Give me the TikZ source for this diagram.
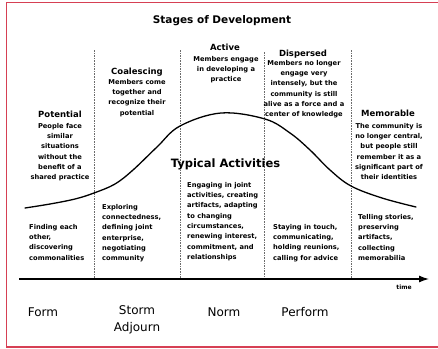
\documentclass[tikz,border=0pt]{standalone}
\usepackage{fontspec}
\setmainfont{DejaVu Sans}
\usetikzlibrary{arrows.meta}
\definecolor{framered}{RGB}{214,64,84}
\tikzset{
  body/.style={font=\bfseries\fontsize{6.7}{10.3}\selectfont, align=center, inner sep=0pt, anchor=north},
  acts/.style={font=\bfseries\fontsize{6.7}{10.3}\selectfont, align=left, inner sep=0pt, anchor=north west},
  head/.style={font=\bfseries\fontsize{8.5}{10}\selectfont, inner sep=0pt, anchor=north},
  stage/.style={font=\fontsize{12}{17}\selectfont, align=center, inner sep=0pt},
  divider/.style={draw=gray!85!black, line width=0.6pt, dash pattern=on 1.6pt off 1pt},
}
\begin{document}
\begin{tikzpicture}[x=1pt,y=-1pt]
\useasboundingbox (0,0) rectangle (438,348);
\fill[white] (0,0) rectangle (438,348);
\draw[framered, line width=1.6pt] (6.5,2.5) rectangle (446,347);

% title
\node[font=\bfseries\fontsize{10.5}{12}\selectfont, inner sep=0pt] (title) at (222,21) {Stages of Development};

% dividers
\coordinate (d1t) at (94,50);  \coordinate (d1b) at (94,278);
\coordinate (d2t) at (180,50); \coordinate (d2b) at (180,278);
\coordinate (d3t) at (264,52); \coordinate (d3b) at (264,278);
\coordinate (d4t) at (351,50); \coordinate (d4b) at (351,278);
\draw[divider] (d1t) -- (d1b);
\draw[divider] (d2t) -- (d2b);
\draw[divider] (d3t) -- (d3b);
\draw[divider] (d4t) -- (d4b);

% stage headings and descriptions
\node[head] (potH) at (60,110.5) {Potential};
\node[body] (potB) at (60,123) {People face\\similar\\situations\\without the\\benefit of a\\shared practice};
\node[head] (coaH) at (137,67.5) {Coalescing};
\node[body] (coaB) at (137,79) {Members come\\together and\\recognize their\\potential};
\node[head] (actH) at (225,43.5) {Active};
\node[body] (actB) at (226,56) {Members engage\\in developing a\\practice};
\node[head] (disH) at (303,49.5) {Dispersed};
\node[body] (disB) at (304,60) {Members no longer\\engage very\\intensely, but the\\community is still\\alive as a force and a\\center of knowledge};
\node[head] (memH) at (388,109.5) {Memorable};
\node[body] (memB) at (389,123) {The community is\\no longer central,\\but people still\\remember it as a\\significant part of\\their identities};

% curve
\draw[line width=1.3pt, line cap=round] plot[smooth, tension=0.6] coordinates {
 (25,208) (50,204) (75,199) (94,193) (115,184) (133,170) (157,147) (180,126)
 (221,113) (265,119) (290,133) (310,150) (330,170)
 (351,186) (382,198) (416,207)};

\node[font=\bfseries\fontsize{11.5}{13}\selectfont, inner sep=0pt] (typ) at (225.5,164) {Typical Activities};

% activities
\node[acts] (a1) at (29,224) {Finding each\\other,\\discovering\\commonalities};
\node[acts] (a2) at (102,204) {Exploring\\connectedness,\\defining joint\\enterprise,\\negotiating\\community};
\node[acts] (a3) at (187,182) {Engaging in joint\\activities, creating\\artifacts, adapting\\to changing\\circumstances,\\renewing interest,\\commitment, and\\relationships};
\node[acts] (a4) at (273,224) {Staying in touch,\\communicating,\\holding reunions,\\calling for advice};
\node[acts] (a5) at (358,214) {Telling stories,\\preserving\\artifacts,\\collecting\\memorabilia};

% time axis
\coordinate (axL) at (19,279);
\coordinate (axR) at (429,279);
\draw[line width=1.3pt, -{Latex[length=10pt,width=7pt]}] (axL) -- (axR);
\node[font=\bfseries\fontsize{6}{7}\selectfont, inner sep=0pt] (time) at (404,287) {time};

% stage names
\node[stage] (form) at (43,312) {Form};
\node[stage, anchor=north] (storm) at (137,305) {Storm\\Adjourn};
\node[stage] (norm) at (224,312) {Norm};
\node[stage] (perform) at (305,312) {Perform};
\end{tikzpicture}
\end{document}
